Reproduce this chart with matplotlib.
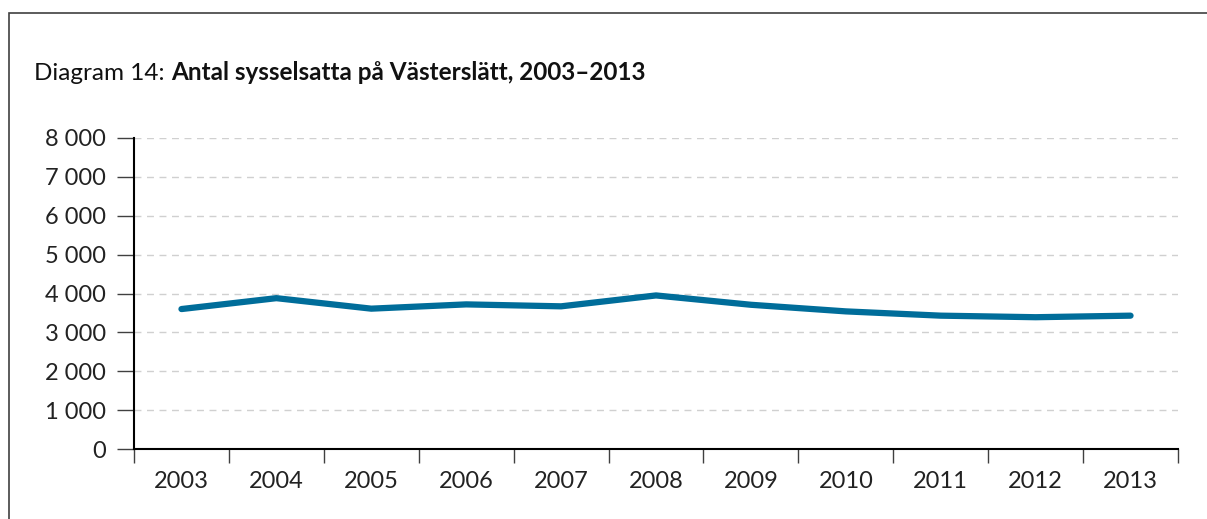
import matplotlib
matplotlib.use('Agg')
import matplotlib.pyplot as plt
from matplotlib.patches import Rectangle
from matplotlib.ticker import FuncFormatter, MultipleLocator

# --- DATA ---
years = ['2003', '2004', '2005', '2006', '2007', '2008', '2009', '2010', '2011', '2012', '2013']
employed = [3600, 3880, 3610, 3720, 3670, 3950, 3710, 3540, 3430, 3390, 3430]

plt.rcParams['font.family'] = ['Lato', 'DejaVu Sans']

fig = plt.figure(figsize=(12.07, 5.19), dpi=100)

# outer frame (runs off the right and bottom edges)
fig.patches.append(Rectangle((9 / 1207, -0.1), 1.2, (519 - 13) / 519 + 0.1,
                             transform=fig.transFigure, fill=False,
                             edgecolor='#404040', linewidth=1.2))

ax = fig.add_axes([134 / 1207, (519 - 449) / 519, (1178 - 134) / 1207, (449 - 138) / 519])

x = list(range(len(years)))
ax.plot(x, employed, color='#006d9a', linewidth=4.5, solid_capstyle='round', solid_joinstyle='round')

ax.set_ylim(0, 8000)
ax.set_xlim(-0.5, len(years) - 0.5)
ax.yaxis.set_major_locator(MultipleLocator(1000))
ax.yaxis.set_major_formatter(FuncFormatter(lambda v, p: f'{int(v):,}'.replace(',', ' ')))

# category labels centred, tick marks between categories
ax.set_xticks(x)
ax.set_xticklabels(years)
ax.set_xticks([i - 0.5 for i in range(len(years) + 1)], minor=True)
ax.tick_params(axis='x', which='major', length=0, pad=16, labelsize=17, colors='#222222')
ax.tick_params(axis='x', which='minor', length=10, width=1, color='#404040')
ax.tick_params(axis='y', length=12, width=1, color='#404040', labelsize=17, labelcolor='#222222', pad=8)

ax.grid(axis='y', color='#d0d0d0', linestyle=(0, (5, 4)), linewidth=1)
ax.set_axisbelow(True)
for s in ['top', 'right']:
    ax.spines[s].set_visible(False)
ax.spines['left'].set_linewidth(1.5)
ax.spines['bottom'].set_linewidth(1.5)
ax.spines['left'].set_color('black')
ax.spines['bottom'].set_color('black')

fig.text(34 / 1207, (519 - 73) / 519, 'Diagram 14: ', fontsize=17.5, va='center', ha='left', color='#111111')
t1 = fig.texts[-1]
fig.canvas.draw()
bb = t1.get_window_extent()
fig.text(bb.x1 / 1207, (519 - 73) / 519, 'Antal sysselsatta på Västerslätt, 2003–2013',
         fontsize=17.5, fontweight='bold', va='center', ha='left', color='#111111')

fig.savefig('out.png', dpi=100)
